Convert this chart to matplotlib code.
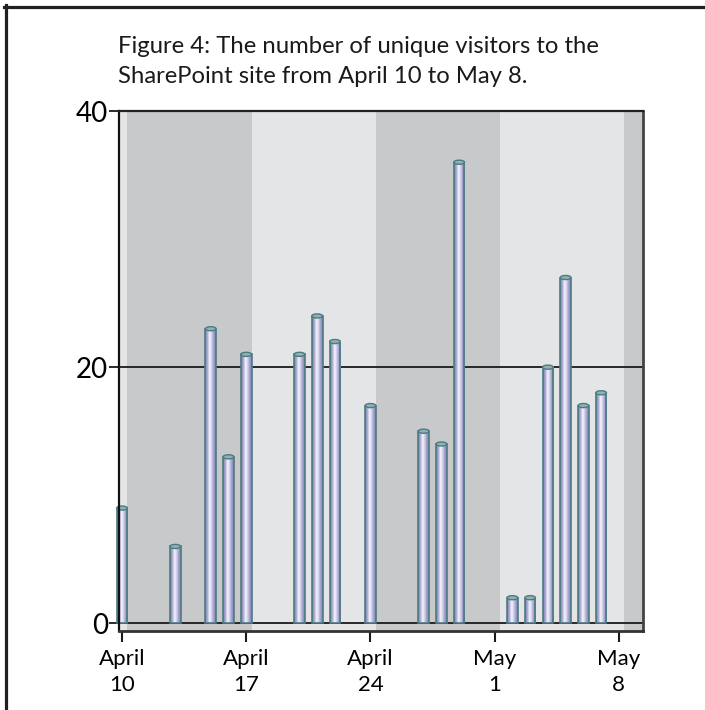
import matplotlib
matplotlib.use("Agg")
import matplotlib.pyplot as plt
import numpy as np
from matplotlib.colors import LinearSegmentedColormap
from matplotlib.patches import Ellipse
from matplotlib.lines import Line2D

# Daily unique visitors (day 0 = April 10)
days = [0, 3, 5, 6, 7, 10, 11, 12, 14, 17, 18, 19, 22, 23, 24, 25, 26, 27]
visitors = [9, 6, 23, 13, 21, 21, 24, 22, 17, 15, 14, 36, 2, 2, 20, 27, 17, 18]

tick_days = [0, 7, 14, 21, 28]
tick_labels = ["April\n10", "April\n17", "April\n24", "May\n1", "May\n8"]
y_ticks = [0, 20, 40]

title = "Figure 4: The number of unique visitors to the\nSharePoint site from April 10 to May 8."

W, H = 705, 710
fig = plt.figure(figsize=(W / 100, H / 100), dpi=100)
fig.patch.set_facecolor("white")

ax_l, ax_r, ax_t, ax_b = 119, 643, 111, 631
ax = fig.add_axes([ax_l / W, 1 - ax_b / H, (ax_r - ax_l) / W, (ax_b - ax_t) / H])

x_min, x_max = -0.17, 29.36
y_min, y_max = -0.6, 40

# alternating weekly background bands
dark_band = "#c8c9cb"
light_band = "#e4e5e7"
ax.set_facecolor(light_band)
edges = [x_min] + [d + 0.3 for d in tick_days] + [x_max]
for i in range(len(edges) - 1):
    col = dark_band if i % 2 == 1 else light_band
    ax.axvspan(edges[i], edges[i + 1], color=col, lw=0, zorder=0)

# reference lines
for yv in [0, 20]:
    ax.axhline(yv, color="#1a1a1a", lw=1.3, zorder=1)

# cylinder-style bars
bar_w = 0.6
cyl = LinearSegmentedColormap.from_list(
    "cyl",
    [(0.0, "#7a78ad"), (0.25, "#b5b3d9"), (0.42, "#f8f7fd"),
     (0.58, "#d8d6ee"), (0.8, "#a09ecd"), (1.0, "#8280b5")])
grad = np.linspace(0, 1, 64).reshape(1, -1)
edge_col = "#4d7c80"
bars = ax.bar(days, visitors, width=bar_w, bottom=0, color="none",
              edgecolor=edge_col, lw=1.2, zorder=3, clip_on=False)
for rect, v in zip(bars, visitors):
    x0 = rect.get_x()
    x1 = x0 + rect.get_width()
    img = ax.imshow(grad, cmap=cyl, extent=[x0, x1, 0, v], aspect="auto",
                    origin="lower", zorder=2, interpolation="bilinear")
    img.set_clip_on(False)
    img.set_clip_path(rect)
    cap = Ellipse((x0 + rect.get_width() / 2, v), rect.get_width(), 0.32,
                  facecolor="#8fb3b5", edgecolor=edge_col, lw=1.0, zorder=4,
                  clip_on=False)
    ax.add_patch(cap)

ax.set_xlim(x_min, x_max)
ax.set_ylim(y_min, y_max)

ax.set_xticks(tick_days)
ax.set_xticklabels(tick_labels, fontsize=16, family="Lato", linespacing=1.35)
ax.set_yticks(y_ticks)
ax.set_yticklabels([str(v) for v in y_ticks], fontsize=20, family="Lato")
ax.tick_params(axis="x", direction="out", length=8, width=1.5, pad=5, color="#1a1a1a")
ax.tick_params(axis="y", direction="out", length=7, width=1.3, pad=1, color="#1a1a1a")

for side, lw, col in [("left", 1.6, "#111111"), ("top", 1.6, "#222222"),
                      ("right", 2.0, "#444444"), ("bottom", 2.0, "#333333")]:
    ax.spines[side].set_linewidth(lw)
    ax.spines[side].set_color(col)
    ax.spines[side].set_zorder(5)

fig.text(118 / W, 1 - 36 / H, title, fontsize=17.2, family="Lato",
         va="top", ha="left", linespacing=1.55, color="#1a1a1a")

# outer page frame
fig.add_artist(Line2D([4 / W, 1.0], [1 - 6.5 / H, 1 - 6.5 / H],
                      transform=fig.transFigure, color="#231f20", lw=2.3))
fig.add_artist(Line2D([5.5 / W, 5.5 / W], [1 - 5 / H, 0.0],
                      transform=fig.transFigure, color="#231f20", lw=2.3))

fig.savefig("out.png", dpi=100, facecolor="white")
